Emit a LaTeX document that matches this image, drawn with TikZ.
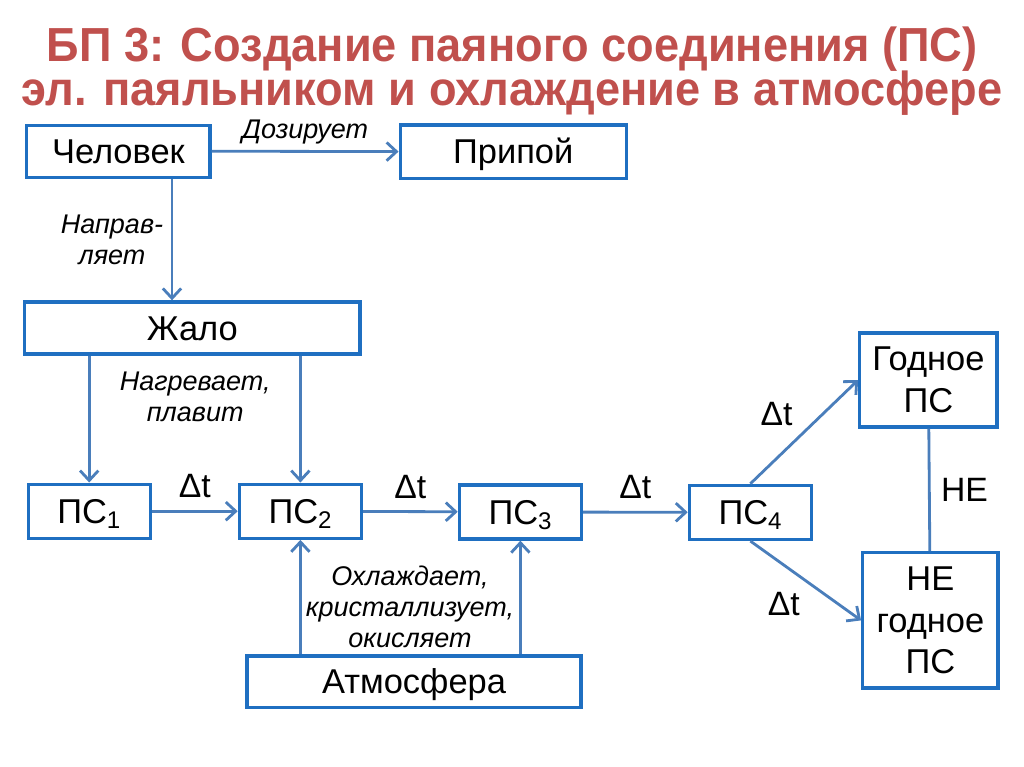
\documentclass[tikz,border=0pt]{standalone}
\usepackage{fontspec}
\setmainfont{Liberation Sans}
\usepackage{xcolor}
\usetikzlibrary{arrows.meta,positioning}
\definecolor{titlered}{HTML}{C0504D}
\definecolor{boxblue}{HTML}{1F6FC1}
\definecolor{lineblue}{HTML}{4A7EBB}

\begin{document}
\begin{tikzpicture}[
        >={Straight Barb[length=7pt,width=13pt]},
        % boxes of the process
        box/.style={
            rectangle, draw=boxblue, line width=2.4pt,
            align=center, inner sep=2pt,
            font=\fontsize{24.5}{29.5}\selectfont
        },
        oneline/.style={text height=20pt, text depth=2.5pt},
        % connectors
        link/.style={->, draw=lineblue, line width=2pt},
        % italic labels of actions
        lbl/.style={font=\fontsize{19.2}{22}\selectfont\itshape, align=center},
        dt/.style={font=\fontsize{24}{28}\selectfont},
        head/.style={anchor=base, text=titlered, xscale=0.945, transform shape, font=\fontsize{34}{36}\selectfont\bfseries}
    ]

        \useasboundingbox (0,0) rectangle (25.6,-19.175);

        % ====================
        % Title
        % ====================
        \node[head] (title1) at (12.8,-1.55) {БП 3: Создание паяного соединения (ПС)};
        \node[head] (title2) at (12.8,-2.63) {эл. паяльником и охлаждение в атмосфере};

        % ====================
        % Upper part
        % ====================
        \node[box, oneline, minimum width=4.58cm, minimum height=1.3cm] (chel) at (2.96,-3.78) {Человек};
        \node[box, oneline, minimum width=5.65cm, minimum height=1.33cm] (pripoj) at (12.83,-3.79) {Припой};
        \node[box, oneline, minimum width=8.38cm, minimum height=1.3cm] (zhalo) at (4.81,-8.2) {Жало};

        % ====================
        % Stages of the joint
        % ====================
        \node[box, oneline, minimum width=3.05cm, minimum height=1.35cm] (ps1) at (2.23,-12.78) {ПС\textsubscript{1}};
        \node[box, oneline, minimum width=3.05cm, minimum height=1.35cm] (ps2) at (7.51,-12.78) {ПС\textsubscript{2}};
        \node[box, oneline, minimum width=3.05cm, minimum height=1.35cm] (ps3) at (13.01,-12.8) {ПС\textsubscript{3}};
        \node[box, oneline, minimum width=3.05cm, minimum height=1.35cm] (ps4) at (18.76,-12.81) {ПС\textsubscript{4}};

        % results
        \node[box, minimum width=3.43cm, minimum height=2.35cm] (godnoe) at (23.21,-9.5) {Годное\\ПС};
        \node[box, minimum width=3.38cm, minimum height=3.38cm] (negodnoe) at (23.26,-15.51) {НЕ\\годное\\ПС};

        % environment
        \node[box, oneline, minimum width=8.35cm, minimum height=1.28cm] (atm) at (10.35,-17.04) {Атмосфера};

        % ====================
        % Connections
        % ====================
        \draw[link] (chel.east) -- node[lbl, above=1pt] {Дозирует} (pripoj.west);
        \draw[link] ([xshift=1.34cm]chel.south) -- node[lbl, left=2pt] {Направ-\\ляет} ([xshift=1.34cm]chel.south |- zhalo.north);

        \draw[link] (zhalo.south -| ps1) -- (ps1.north);
        \draw[link] (zhalo.south -| ps2) -- (ps2.north);
        \node[lbl] (heat) at (4.88,-9.93) {Нагревает,\\плавит};

        \draw[link] (ps1) -- node[dt, above=5pt] {Δt} (ps2);
        \draw[link] (ps2) -- node[dt, above=5pt] {Δt} (ps3);
        \draw[link] (ps3) -- node[dt, above=5pt] {Δt} (ps4);

        \draw[link] (ps4.north) -- node[dt, above left=0pt and 4pt, pos=0.5] {Δt} (godnoe.west);
        \draw[link] (ps4.south) -- node[dt, below left=4pt and 0pt, pos=0.5] {Δt} (negodnoe.west);
        \draw[draw=lineblue, line width=2pt] (godnoe) -- node[dt, right=4pt] {НЕ} (negodnoe);

        \draw[link] (atm.north -| ps2) -- (ps2.south);
        \draw[link] (atm.north -| ps3) -- (ps3.south);
        \node[lbl] (cool) at (10.25,-15.18) {Охлаждает,\\кристаллизует,\\окисляет};

    \end{tikzpicture}
\end{document}
